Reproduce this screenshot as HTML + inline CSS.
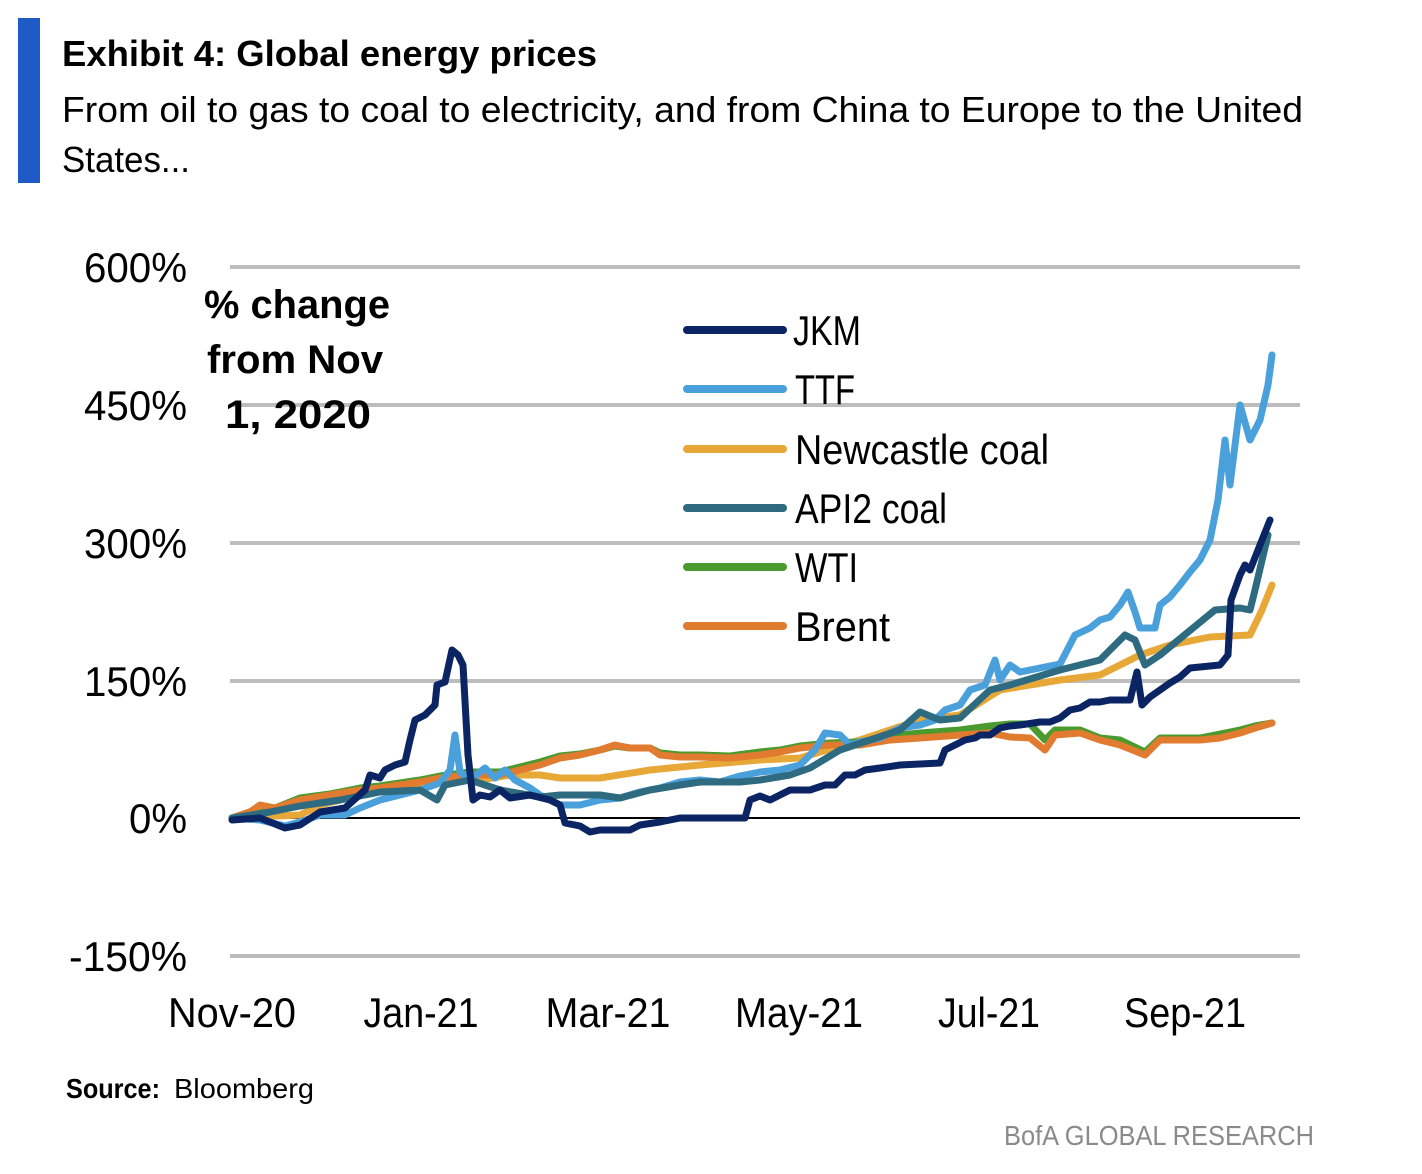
<!DOCTYPE html>
<html><head><meta charset="utf-8"><style>
html,body{margin:0;padding:0;background:#fff}
svg{display:block}
text{font-family:"Liberation Sans",sans-serif}
</style></head><body>
<svg width="1422" height="1174" viewBox="0 0 1422 1174" xmlns="http://www.w3.org/2000/svg">
<rect x="18" y="18" width="22" height="165" fill="#1f5bc6"/>
<text x="62" y="66" font-size="36" font-weight="bold" textLength="535" lengthAdjust="spacingAndGlyphs">Exhibit 4: Global energy prices</text>
<text x="62" y="122" font-size="36" textLength="1241" lengthAdjust="spacingAndGlyphs">From oil to gas to coal to electricity, and from China to Europe to the United</text>
<text x="62" y="172" font-size="36" textLength="128" lengthAdjust="spacingAndGlyphs">States...</text>

<g stroke="#bdbdbd" stroke-width="4">
<line x1="230" y1="267" x2="1300" y2="267"/>
<line x1="230" y1="405" x2="1300" y2="405"/>
<line x1="230" y1="543" x2="1300" y2="543"/>
<line x1="230" y1="681" x2="1300" y2="681"/>
<line x1="230" y1="956" x2="1300" y2="956"/>
</g>
<line x1="230" y1="818" x2="1300" y2="818" stroke="#000" stroke-width="2"/>

<g font-size="42" text-anchor="end">
<text x="187" y="282" textLength="103" lengthAdjust="spacingAndGlyphs">600%</text>
<text x="187" y="420" textLength="103" lengthAdjust="spacingAndGlyphs">450%</text>
<text x="187" y="558" textLength="103" lengthAdjust="spacingAndGlyphs">300%</text>
<text x="187" y="696" textLength="103" lengthAdjust="spacingAndGlyphs">150%</text>
<text x="187" y="833" textLength="58" lengthAdjust="spacingAndGlyphs">0%</text>
<text x="187" y="971" textLength="118" lengthAdjust="spacingAndGlyphs">-150%</text>
</g>
<g font-size="42" text-anchor="middle">
<text x="232" y="1027" textLength="128" lengthAdjust="spacingAndGlyphs">Nov-20</text>
<text x="421" y="1027" textLength="115" lengthAdjust="spacingAndGlyphs">Jan-21</text>
<text x="608" y="1027" textLength="125" lengthAdjust="spacingAndGlyphs">Mar-21</text>
<text x="799" y="1027" textLength="128" lengthAdjust="spacingAndGlyphs">May-21</text>
<text x="989" y="1027" textLength="102" lengthAdjust="spacingAndGlyphs">Jul-21</text>
<text x="1185" y="1027" textLength="122" lengthAdjust="spacingAndGlyphs">Sep-21</text>
</g>
<g font-size="40" font-weight="bold" text-anchor="middle">
<text x="297" y="318" textLength="186" lengthAdjust="spacingAndGlyphs">% change</text>
<text x="295" y="373" textLength="176" lengthAdjust="spacingAndGlyphs">from Nov</text>
<text x="298" y="428" textLength="146" lengthAdjust="spacingAndGlyphs">1, 2020</text>
</g>

<g fill="none" stroke-width="7" stroke-linejoin="round" stroke-linecap="round">
<polyline stroke="#e8a838" points="232,818 300,815 320,805 360,795 420,785 460,780 480,780 510,775 540,775 560,778 600,778 650,770 700,765 760,760 800,758 860,740 890,730 920,720 960,715 1000,690 1060,680 1100,675 1140,655 1170,645 1210,637 1250,635 1262,610 1272,585"/>
<polyline stroke="#4a9a2e" points="232,818 250,812 260,806 275,808 300,798 330,794 360,788 380,786 420,780 440,776 470,772 500,772 520,767 540,762 560,756 580,754 600,750 615,746 630,748 650,748 660,753 680,755 700,755 730,756 760,752 780,750 800,746 830,743 860,742 890,736 920,733 960,730 990,726 1010,724 1030,724 1045,740 1055,730 1080,730 1100,738 1120,740 1145,752 1160,738 1200,738 1220,734 1240,730 1255,726 1272,723"/>
<polyline stroke="#e07b30" points="232,818 250,812 260,805 275,808 300,800 330,795 360,790 380,788 420,782 440,778 470,775 500,775 520,770 540,765 560,758 580,755 600,750 615,745 630,748 650,748 660,755 680,757 700,757 730,758 760,755 780,752 800,748 830,745 860,745 890,740 920,738 960,735 990,733 1010,737 1030,738 1045,750 1055,735 1080,733 1100,740 1120,745 1145,755 1160,740 1200,740 1220,738 1240,733 1255,728 1272,723"/>
<polyline stroke="#4aa0db" points="232,818 260,820 285,826 300,822 320,815 345,815 360,808 380,800 400,795 420,790 440,783 450,770 455,735 460,772 470,780 485,768 495,778 505,770 515,780 530,788 540,795 560,805 580,805 600,800 620,798 640,792 660,788 680,782 700,780 720,782 740,776 760,772 780,770 800,765 815,750 825,733 840,735 850,745 860,742 880,738 900,728 920,725 935,720 945,710 960,705 970,690 985,685 995,660 1000,680 1010,665 1020,672 1040,668 1060,664 1075,635 1090,628 1100,620 1110,617 1120,605 1128,592 1135,612 1140,628 1155,628 1160,605 1170,597 1180,585 1190,572 1200,560 1210,540 1218,500 1225,440 1230,485 1240,405 1250,440 1260,420 1268,385 1272,355"/>
<polyline stroke="#2e6b80" points="232,818 270,812 300,806 340,800 380,792 420,790 437,800 445,785 470,780 500,790 540,797 560,795 600,795 620,798 650,790 680,785 700,782 740,782 760,780 790,775 810,768 840,750 870,740 900,730 920,712 940,720 960,718 990,690 1010,685 1060,670 1100,660 1110,650 1125,635 1135,640 1145,665 1160,655 1215,610 1240,608 1250,610 1255,590 1268,535"/>
<polyline stroke="#0b2463" points="232,820 260,818 285,828 300,825 320,812 345,808 365,790 370,775 380,778 385,770 395,765 405,762 410,740 415,720 425,715 435,705 437,685 445,682 452,650 458,655 463,665 468,755 473,800 480,795 490,797 500,790 510,798 530,795 550,800 560,805 565,823 580,826 590,832 600,830 630,830 640,825 660,822 680,818 745,818 750,800 760,796 770,800 780,795 790,790 810,790 825,785 835,785 845,775 855,775 865,770 880,768 900,765 940,763 945,750 955,745 965,740 975,738 980,735 990,735 1000,728 1010,726 1020,725 1040,722 1050,722 1060,718 1070,710 1080,708 1090,702 1100,702 1110,700 1130,700 1137,672 1142,705 1150,697 1160,690 1170,683 1180,677 1190,668 1220,665 1228,655 1231,600 1240,575 1245,565 1250,570 1262,540 1270,520"/>
</g>

<g stroke-width="8" stroke-linecap="round">
<line x1="687" y1="330" x2="783" y2="330" stroke="#0b2463"/>
<line x1="687" y1="389" x2="783" y2="389" stroke="#4aa0db"/>
<line x1="687" y1="449" x2="783" y2="449" stroke="#e8a838"/>
<line x1="687" y1="508" x2="783" y2="508" stroke="#2e6b80"/>
<line x1="687" y1="567" x2="783" y2="567" stroke="#4a9a2e"/>
<line x1="687" y1="626" x2="783" y2="626" stroke="#e07b30"/>
</g>
<g font-size="42">
<text x="793" y="345" textLength="68" lengthAdjust="spacingAndGlyphs">JKM</text>
<text x="795" y="404" textLength="60" lengthAdjust="spacingAndGlyphs">TTF</text>
<text x="795" y="464" textLength="254" lengthAdjust="spacingAndGlyphs">Newcastle coal</text>
<text x="795" y="523" textLength="152" lengthAdjust="spacingAndGlyphs">API2 coal</text>
<text x="795" y="582" textLength="63" lengthAdjust="spacingAndGlyphs">WTI</text>
<text x="795" y="641" textLength="95" lengthAdjust="spacingAndGlyphs">Brent</text>
</g>

<text x="66" y="1098" font-size="28" font-weight="bold" textLength="94" lengthAdjust="spacingAndGlyphs">Source:</text>
<text x="174" y="1098" font-size="28" textLength="140" lengthAdjust="spacingAndGlyphs">Bloomberg</text>
<text x="1314" y="1145" font-size="28" fill="#8a8a8a" text-anchor="end" textLength="310" lengthAdjust="spacingAndGlyphs">BofA GLOBAL RESEARCH</text>
</svg>
</body></html>
